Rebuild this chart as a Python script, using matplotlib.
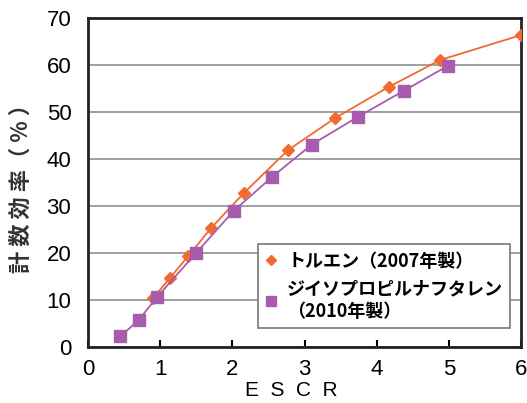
import matplotlib
matplotlib.use("Agg")
import matplotlib.pyplot as plt
from matplotlib.lines import Line2D

# トルエン (2007年製)
tol_x = [0.90, 1.13, 1.39, 1.71, 2.16, 2.77, 3.42, 4.17, 4.88, 6.00]
tol_y = [10.4, 14.6, 19.4, 25.4, 32.8, 41.9, 48.7, 55.4, 61.1, 66.4]

# ジイソプロピルナフタレン (2010年製)
dip_x = [0.45, 0.70, 0.96, 1.49, 2.02, 2.55, 3.10, 3.74, 4.37, 4.99]
dip_y = [2.3, 5.7, 10.7, 19.9, 29.0, 36.2, 43.1, 49.0, 54.5, 59.9]

labels = ["トルエン（2007年製）", "ジイソプロピルナフタレン\n（2010年製）"]

plt.rcParams["font.family"] = ["Liberation Sans", "Noto Sans CJK JP", "DejaVu Sans"]

fig = plt.figure(figsize=(5.27, 4.03), dpi=100)
ax = fig.add_axes([0.167, 0.139, 0.822, 0.816])

orange = "#F26B2E"
purple = "#A85CAC"

ax.plot(tol_x, tol_y, color=orange, lw=1.3, marker="D", ms=6, zorder=3)
ax.plot(dip_x, dip_y, color=purple, lw=1.3, marker="s", ms=8, zorder=3)

ax.set_xlim(0, 6)
ax.set_ylim(0, 70)
ax.set_xticks(range(0, 7))
ax.set_yticks(range(0, 71, 10))
ax.yaxis.grid(True, color="#999999", lw=1.3)
ax.set_axisbelow(True)

for s in ax.spines.values():
    s.set_linewidth(2)
    s.set_color("#222222")

ax.tick_params(axis="x", direction="in", length=5, width=1.5, labelsize=16, pad=9)
ax.tick_params(axis="y", length=0, labelsize=16, pad=12)

ax.set_xlabel("E  S  C  R", fontsize=15)
ax.xaxis.set_label_coords(0.469, -0.104)
ax.set_ylabel("計 数 効 率（ % ）", family=["Noto Sans CJK JP", "DejaVu Sans"],
              fontsize=16, weight="bold", color="#333333", labelpad=10)

# 凡例はマーカーのみ
handles = [Line2D([], [], ls="none", marker="D", ms=5, color=orange),
           Line2D([], [], ls="none", marker="s", ms=6.5, color=purple)]
leg = ax.legend(handles, labels, loc="lower right", bbox_to_anchor=(0.975, 0.058),
                prop={"family": ["Noto Sans CJK JP", "DejaVu Sans"],
                      "weight": "bold", "size": 13},
                fancybox=False, edgecolor="#777777", framealpha=1,
                handlelength=0.6, handletextpad=0.6,
                borderpad=0.4, borderaxespad=0, labelspacing=0.5)
leg.get_frame().set_linewidth(1.2)

fig.savefig("out.png", dpi=100)
